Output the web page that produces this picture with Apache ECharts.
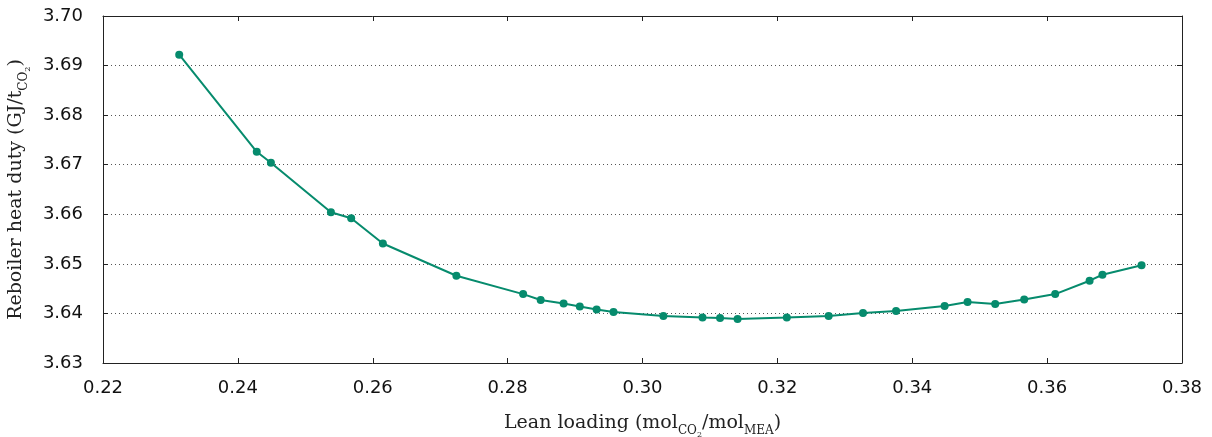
<!DOCTYPE html>
<html>
<head>
    <meta charset="utf-8">
    <title>Reboiler heat duty</title>
    <script src="https://cdn.jsdelivr.net/npm/echarts@6/dist/echarts.min.js"></script>
</head>
<body style="margin:0">
<div id="main" style="width: 1212px;height:437px;"></div>
<script type="text/javascript">
    var myChart = echarts.init(document.getElementById('main'));

    // lean loading (mol CO2 / mol MEA)
    var leanLoading = [
        0.2313, 0.2428, 0.2449, 0.2538, 0.2568, 0.2615, 0.2724, 0.2823, 0.2849, 0.2883,
        0.2907, 0.2932, 0.2957, 0.3031, 0.3089, 0.3115, 0.3141, 0.3214, 0.3276, 0.3327,
        0.3376, 0.3448, 0.3482, 0.3523, 0.3566, 0.3612, 0.3663, 0.3682, 0.3740
    ];
    // reboiler heat duty (GJ / t CO2)
    var heatDuty = [
        3.6922, 3.6726, 3.6704, 3.6604, 3.6592, 3.6541, 3.6476, 3.6439, 3.6427, 3.6420,
        3.6414, 3.6408, 3.6403, 3.6395, 3.6392, 3.6391, 3.6389, 3.6392, 3.6395, 3.6401,
        3.6405, 3.6415, 3.6423, 3.6419, 3.6428, 3.6439, 3.6466, 3.6478, 3.6497
    ];

    var data = leanLoading.map(function (x, i) { return [x, heatDuty[i]]; });

    var lineColor = '#068b6d';
    var axisColor = '#222';
    var txt = {fontFamily: 'DejaVu Serif', fontSize: 19, color: '#222', verticalAlign: 'bottom'};
    var subStyle = {fontFamily: 'DejaVu Serif', fontSize: 12, color: '#222', verticalAlign: 'bottom', padding: [0, 0, -4, 0]};
    var sub2Style = {fontFamily: 'DejaVu Serif', fontSize: 8, color: '#222', verticalAlign: 'bottom', padding: [0, 0, -6, 0]};

    option = {
        animation: false,
        backgroundColor: '#fff',
        grid: {
            left: 103,
            top: 16,
            right: 30,
            bottom: 74,
            outerBoundsMode: 'none'
        },
        xAxis: [{
            type: 'value',
            min: 0.22,
            max: 0.38,
            interval: 0.02,
            name: '{t|Lean loading (mol}{sub|CO}{sub2|2}{t|/mol}{sub|MEA}{t|)}',
            nameLocation: 'middle',
            nameGap: 51,
            nameTextStyle: {
                fontFamily: 'DejaVu Serif',
                fontSize: 19,
                color: '#222',
                rich: {t: txt, sub: subStyle, sub2: sub2Style}
            },
            axisLine: {onZero: false, lineStyle: {color: axisColor, width: 1}},
            axisTick: {inside: true, length: 5, lineStyle: {color: axisColor}},
            axisLabel: {
                margin: 16,
                fontFamily: 'DejaVu Sans',
                fontSize: 18,
                color: '#111',
                formatter: function (v) { return v.toFixed(2); }
            },
            splitLine: {show: false}
        }, {
            type: 'value',
            position: 'top',
            min: 0.22,
            max: 0.38,
            interval: 0.02,
            axisLine: {onZero: false, lineStyle: {color: axisColor, width: 1}},
            axisTick: {inside: true, length: 5, lineStyle: {color: axisColor}},
            axisLabel: {show: false},
            splitLine: {show: false}
        }],
        yAxis: [{
            type: 'value',
            min: 3.63,
            max: 3.70,
            interval: 0.01,
            name: '{t|Reboiler heat duty (GJ/t}{sub|CO}{sub2|2}{t|)}',
            nameLocation: 'middle',
            nameGap: 67,
            nameTextStyle: {
                fontFamily: 'DejaVu Serif',
                fontSize: 19,
                color: '#222',
                rich: {t: txt, sub: subStyle, sub2: sub2Style}
            },
            axisLine: {show: true, onZero: false, lineStyle: {color: axisColor, width: 1}},
            axisTick: {show: true, inside: true, length: 5, lineStyle: {color: axisColor}},
            axisLabel: {
                margin: 20,
                fontFamily: 'DejaVu Sans',
                fontSize: 18,
                color: '#111',
                formatter: function (v) { return v.toFixed(2); }
            },
            splitLine: {
                show: true,
                lineStyle: {color: '#555', type: [1, 3], width: 1}
            }
        }, {
            type: 'value',
            position: 'right',
            min: 3.63,
            max: 3.70,
            interval: 0.01,
            axisLine: {show: true, onZero: false, lineStyle: {color: axisColor, width: 1}},
            axisTick: {show: true, inside: true, length: 5, lineStyle: {color: axisColor}},
            axisLabel: {show: false},
            splitLine: {show: false}
        }],
        series: [{
            type: 'line',
            data: data,
            symbol: 'circle',
            symbolSize: 8,
            lineStyle: {color: lineColor, width: 2},
            itemStyle: {color: lineColor}
        }]
    };

    myChart.setOption(option);
</script>
</body>
</html>
